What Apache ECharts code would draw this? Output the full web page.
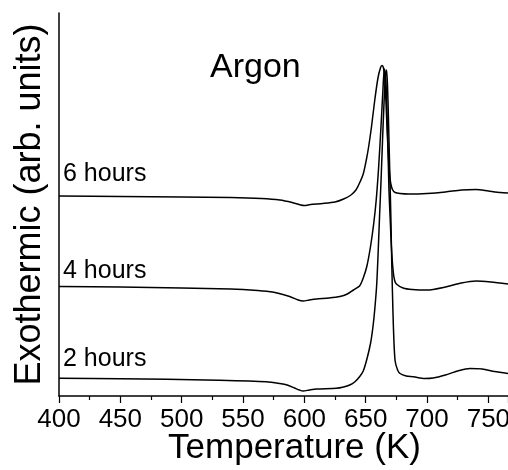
<!DOCTYPE html>
<html>
<head>
<meta charset="utf-8">
<script src="https://cdn.jsdelivr.net/npm/echarts@6/dist/echarts.min.js"></script>
<style>
html,body{margin:0;padding:0;background:#fff;}
#chart{width:508px;height:470px;}
</style>
</head>
<body>
<div id="chart"></div>
<script>
// Temperature (K) ticks
var xTicks = [400, 450, 500, 550, 600, 650, 700, 750];

// Curves: [temperature K, exothermic signal (arb. units, vertically offset)]
var hours6 = [[400,200],[450,199.5],[500,199],[540,198.5],[565,197.5],[580,196],[590,193.5],[597,191],[600,190.5],[605,191.5],[615,192.5],[625,194],[632,197],[638,201],[642,206],[645,213],[648,222],[650.5,236],[652.5,250],[654.7,269],[657.4,296],[660,318],[662,328],[663.3,330.5],[664.5,328],[665.5,318],[666.5,295],[667.5,265],[668.5,240],[669.5,222],[670.5,212],[672,206],[674,203.5],[678,202.5],[685,202],[700,202.5],[715,204],[728,206],[740,206.5],[750,205],[760,203.5],[766,203]];

var hours4 = [[400,109.5],[450,109],[500,108],[540,107],[562,105.5],[574,104],[588,99.5],[595,96],[599,95],[604,96],[610,97],[620,98],[629,99.5],[635,102],[640,106],[645,110],[648,118],[651,130],[654,150],[656.5,172],[658.5,195],[660.5,228],[662.5,270],[664,305],[665.2,327],[666.3,320],[667.2,290],[668,255],[669,205],[670,176],[671,148],[672.3,126],[673.5,116],[675,112],[680.5,108],[688,106.5],[700,106],[715,109],[728,113],[740,115],[752,114],[766,112]];

var hours2 = [[400,17.7],[450,17.2],[488,16.7],[530,15.8],[569,14.3],[580,12.5],[586,11],[592,8],[596,6],[599,5],[604,6],[610,7],[626,7.7],[632,9],[637,11],[641,14],[645,19.3],[648,25],[651,37],[654,53],[656,70],[657.5,88],[659,112],[660.2,145],[661.3,180],[662.5,215],[663.7,255],[665,295],[666.2,322],[667,326],[667.8,310],[668.6,275],[669.5,230],[670.5,180],[671.3,130],[672.2,85],[673,55],[674,35],[676,26],[678,22.5],[683,20],[689,19.3],[698,17.5],[705,18],[715,21],[725,25],[735,27.5],[745,27],[755,24.5],[766,22.5]];

var seriesNames = ['6 hours', '4 hours', '2 hours'];
var chartTitle = 'Argon';
var xName = 'Temperature (K)';
var yName = 'Exothermic (arb. units)';

var FONT = '"Liberation Sans", Arial, Helvetica, sans-serif';
var chart = echarts.init(document.getElementById('chart'), null, {renderer: 'canvas'});

function lineSeries(name, data) {
  return {
    name: name, type: 'line', data: data, showSymbol: false, symbol: 'none',
    smooth: 0.25, lineStyle: {color: '#000', width: 1.5}, silent: true, animation: false
  };
}

chart.setOption({
  animation: false,
  backgroundColor: '#fff',
  grid: {left: 59, top: 13, right: 0, bottom: 74, containLabel: false, outerBoundsMode: 'none'},
  xAxis: {
    type: 'value', min: 400, max: 766, interval: 50,
    name: xName, nameLocation: 'middle', nameGap: 35, nameMoveOverlap: false,
    nameTextStyle: {fontFamily: FONT, fontSize: 35, color: '#000', padding: [0, 0, 0, 22]},
    axisLine: {show: true, lineStyle: {color: '#000', width: 1.5}},
    axisTick: {show: true, inside: false, length: 7, lineStyle: {color: '#000', width: 1.2}},
    minorTick: {show: true, splitNumber: 2, length: 4, lineStyle: {color: '#000', width: 1.2}},
    axisLabel: {
      fontFamily: FONT, fontSize: 26, color: '#000', margin: 11,
      showMaxLabel: false, hideOverlap: false,
      formatter: function (v) { return xTicks.indexOf(v) >= 0 ? String(v) : ''; }
    },
    splitLine: {show: false}
  },
  yAxis: {
    type: 'value', min: 0, max: 383,
    name: yName, nameLocation: 'middle', nameGap: 11, nameRotate: 90, nameMoveOverlap: false,
    nameTextStyle: {fontFamily: FONT, fontSize: 36, color: '#000'},
    axisLine: {show: true, lineStyle: {color: '#000', width: 1.5}},
    axisTick: {show: false},
    axisLabel: {show: false},
    splitLine: {show: false}
  },
  graphic: [
    {type: 'text', left: 210, top: 51, style: {text: chartTitle, font: '34px ' + FONT, fill: '#000'}},
    {type: 'text', x: 63, y: 174.5, style: {text: seriesNames[0], font: '25px ' + FONT, fill: '#000', textVerticalAlign: 'middle'}},
    {type: 'text', x: 63, y: 271.5, style: {text: seriesNames[1], font: '25px ' + FONT, fill: '#000', textVerticalAlign: 'middle'}},
    {type: 'text', x: 63, y: 359, style: {text: seriesNames[2], font: '25px ' + FONT, fill: '#000', textVerticalAlign: 'middle'}}
  ],
  series: [
    lineSeries(seriesNames[0], hours6),
    lineSeries(seriesNames[1], hours4),
    lineSeries(seriesNames[2], hours2)
  ]
});
</script>
</body>
</html>
